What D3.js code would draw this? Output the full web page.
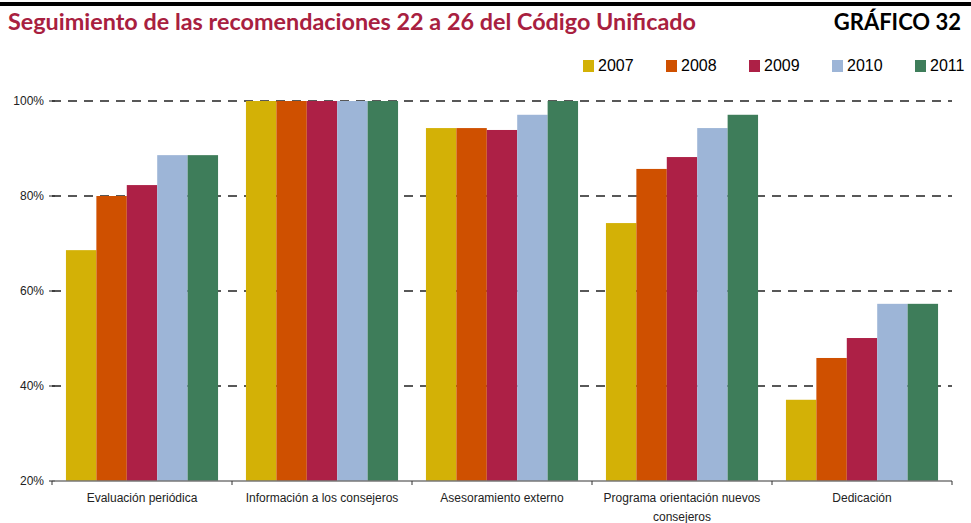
<!DOCTYPE html>
<html>
<head>
<meta charset="utf-8">
<script src="https://cdn.jsdelivr.net/npm/d3@7"></script>
<style>
  body { margin: 0; background: #fff; }
  svg { display: block; }
</style>
</head>
<body>
<div id="chart"></div>
<script>
const categories = [
  ["Evaluación periódica"],
  ["Información a los consejeros"],
  ["Asesoramiento externo"],
  ["Programa orientación nuevos", "consejeros"],
  ["Dedicación"]
];
const years = ["2007", "2008", "2009", "2010", "2011"];
const v2007 = [68.6, 100, 94.3, 74.3, 37.1];
const v2008 = [80.0, 100, 94.3, 85.7, 45.9];
const v2009 = [82.3, 100, 93.9, 88.2, 50.1];
const v2010 = [88.6, 100, 97.1, 94.3, 57.3];
const v2011 = [88.6, 100, 100, 97.1, 57.3];
const yTicks = [20, 40, 60, 80, 100];
const colors = ["#d3b106", "#cf5000", "#ad2046", "#9db5d7", "#3e7d5a"];

const series = [v2007, v2008, v2009, v2010, v2011];
const width = 971, height = 523;
const margin = {top: 101, right: 19, bottom: 42, left: 52};

const svg = d3.select("#chart").append("svg")
    .attr("width", width)
    .attr("height", height)
    .attr("font-family", "'Liberation Sans', Arial, sans-serif");

// top rule
svg.append("rect").attr("x", 0).attr("y", 2).attr("width", width).attr("height", 4).attr("fill", "#000");

svg.append("text")
    .attr("x", 8).attr("y", 30)
    .attr("font-family", "Lato, 'Open Sans', sans-serif")
    .attr("font-weight", "bold")
    .attr("font-size", 22)
    .attr("fill", "#a8203f")
    .attr("textLength", 688)
    .attr("lengthAdjust", "spacingAndGlyphs")
    .text("Seguimiento de las recomendaciones 22 a 26 del Código Unificado");

svg.append("text")
    .attr("x", 961).attr("y", 30)
    .attr("text-anchor", "end")
    .attr("font-family", "Lato, 'Open Sans', sans-serif")
    .attr("font-weight", "bold")
    .attr("font-size", 22)
    .attr("fill", "#000")
    .text("GRÁFICO 32");

const x0 = d3.scaleBand()
    .domain(d3.range(categories.length))
    .range([margin.left, width - margin.right])
    .paddingInner(0.155)
    .paddingOuter(0.0775);

const x1 = d3.scaleBand()
    .domain(years)
    .range([0, x0.bandwidth()]);

const y = d3.scaleLinear()
    .domain([20, 100])
    .range([height - margin.bottom, margin.top]);

// gridlines
svg.append("g")
  .selectAll("line")
  .data(yTicks.filter(d => d > 20))
  .join("line")
    .attr("x1", margin.left)
    .attr("x2", width - margin.right)
    .attr("y1", d => y(d))
    .attr("y2", d => y(d))
    .attr("stroke", "#222")
    .attr("stroke-width", 1.3)
    .attr("stroke-dasharray", "9,7");

// bars
const groups = svg.append("g")
  .selectAll("g")
  .data(categories.map((c, i) => i))
  .join("g")
    .attr("transform", i => `translate(${x0(i)},0)`);

groups.selectAll("rect")
  .data(i => years.map((yr, k) => ({yr, k, v: series[k][i]})))
  .join("rect")
    .attr("x", d => x1(d.yr))
    .attr("width", x1.bandwidth())
    .attr("y", d => y(d.v))
    .attr("height", d => y(20) - y(d.v))
    .attr("fill", d => colors[d.k]);

// y labels
svg.append("g")
  .selectAll("text")
  .data(yTicks)
  .join("text")
    .attr("x", margin.left - 8)
    .attr("y", d => y(d))
    .attr("dy", "0.35em")
    .attr("text-anchor", "end")
    .attr("font-size", 12)
    .attr("fill", "#222")
    .text(d => d + "%");

// y tick marks
svg.append("g")
  .selectAll("line")
  .data(yTicks)
  .join("line")
    .attr("x1", margin.left - 3)
    .attr("x2", margin.left + 3)
    .attr("y1", d => y(d))
    .attr("y2", d => y(d))
    .attr("stroke", "#222");

// x axis
const step = (width - margin.left - margin.right) / categories.length;
svg.append("line")
    .attr("x1", margin.left).attr("x2", width - margin.right)
    .attr("y1", y(20)).attr("y2", y(20))
    .attr("stroke", "#777").attr("stroke-width", 1.5);

svg.append("g")
  .selectAll("line")
  .data(d3.range(categories.length + 1))
  .join("line")
    .attr("x1", i => margin.left + i * step)
    .attr("x2", i => margin.left + i * step)
    .attr("y1", y(20))
    .attr("y2", y(20) + 4)
    .attr("stroke", "#333");

const labels = svg.append("g")
  .selectAll("text")
  .data(categories)
  .join("text")
    .attr("x", (d, i) => x0(i) + x0.bandwidth() / 2)
    .attr("y", y(20) + 21)
    .attr("text-anchor", "middle")
    .attr("font-size", 12)
    .attr("fill", "#222");

labels.selectAll("tspan")
  .data(d => d)
  .join("tspan")
    .attr("x", function() { return d3.select(this.parentNode).attr("x"); })
    .attr("dy", (d, i) => i === 0 ? 0 : 19)
    .text(d => d);

// legend
const legend = svg.append("g")
  .selectAll("g")
  .data(years)
  .join("g")
    .attr("transform", (d, i) => `translate(${583 + i * 83},60)`);

legend.append("rect")
    .attr("width", 11).attr("height", 12)
    .attr("fill", (d, i) => colors[i]);

legend.append("text")
    .attr("x", 15).attr("y", 11)
    .attr("font-family", "'Liberation Sans Narrow', 'Liberation Sans', sans-serif")
    .attr("font-size", 16)
    .attr("fill", "#000")
    .text(d => d);
</script>
</body>
</html>
